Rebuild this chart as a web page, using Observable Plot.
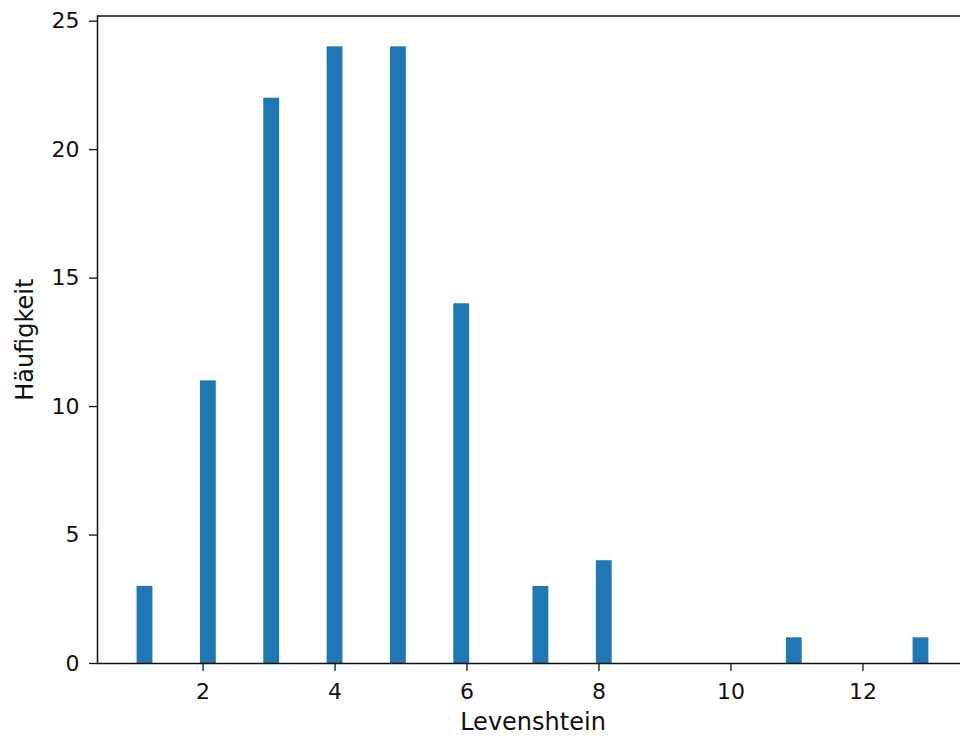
<!DOCTYPE html>
<html>
<head>
<meta charset="utf-8">
<script src="https://cdn.jsdelivr.net/npm/d3@7"></script>
<script src="https://cdn.jsdelivr.net/npm/@observablehq/plot@0.6"></script>
<style>
  html, body { margin: 0; padding: 0; background: white; overflow: hidden; }
</style>
</head>
<body>
<div id="chart"></div>
<script>
// Levenshtein distances and how often they occur
const distances = [1, 2, 3, 4, 5, 6, 7, 8, 11, 13];
const counts    = [3, 11, 22, 24, 24, 14, 3, 4, 1, 1];
const xTicks = [2, 4, 6, 8, 10, 12];
const yTicks = [0, 5, 10, 15, 20, 25];
const xLabel = "Levenshtein";
const yLabel = "Häufigkeit";

// histogram binning (50 equal bins between min and max, like matplotlib bins=50)
const nBins = 50;
const lo = d3.min(distances), hi = d3.max(distances);
const binW = (hi - lo) / nBins;
const data = distances.map((v, i) => {
  const k = Math.min(nBins - 1, Math.floor((v - lo) / binW + 1e-9));
  return {x1: lo + k * binW, x2: lo + (k + 1) * binW, count: counts[i]};
});

const span = hi - lo;
const xDomain = [lo - 0.05 * span, hi + 0.05 * span];
const yMax = d3.max(counts) * 1.05;

const font = "DejaVu Sans";
const chart = Plot.plot({
  width: 960,
  height: 737,
  marginLeft: 97,
  marginRight: -8,
  marginTop: 15.5,
  marginBottom: 74,
  style: {fontFamily: font, fontSize: "22px", color: "#111", background: "white", overflow: "hidden"},
  x: {domain: xDomain},
  y: {domain: [0, yMax]},
  marks: [
    Plot.rectY(data, {x1: "x1", x2: "x2", y: "count", fill: "#1f77b4", inset: 0}),
    Plot.ruleX([xDomain[0]], {stroke: "#111", strokeWidth: 1.5}),
    Plot.ruleY([0], {stroke: "#111", strokeWidth: 1.5}),
    Plot.ruleY([yMax], {stroke: "#111", strokeWidth: 1.5}),
    Plot.axisX({ticks: xTicks, tickSize: 8, tickPadding: 12, fontSize: 22, label: null, strokeWidth: 1.3, tickFormat: d => String(d)}),
    Plot.axisY({ticks: yTicks, tickSize: 8, tickPadding: 10, fontSize: 22, label: null, strokeWidth: 1.3, tickFormat: d => String(d)}),
    Plot.text([xLabel], {frameAnchor: "bottom", dy: 59, lineAnchor: "middle", textAnchor: "middle", fontSize: 24, fill: "#111"}),
    Plot.text([yLabel], {frameAnchor: "left", dx: -72, rotate: -90, lineAnchor: "middle", textAnchor: "middle", fontSize: 24, fill: "#111"})
  ]
});
document.getElementById("chart").appendChild(chart);
</script>
</body>
</html>
